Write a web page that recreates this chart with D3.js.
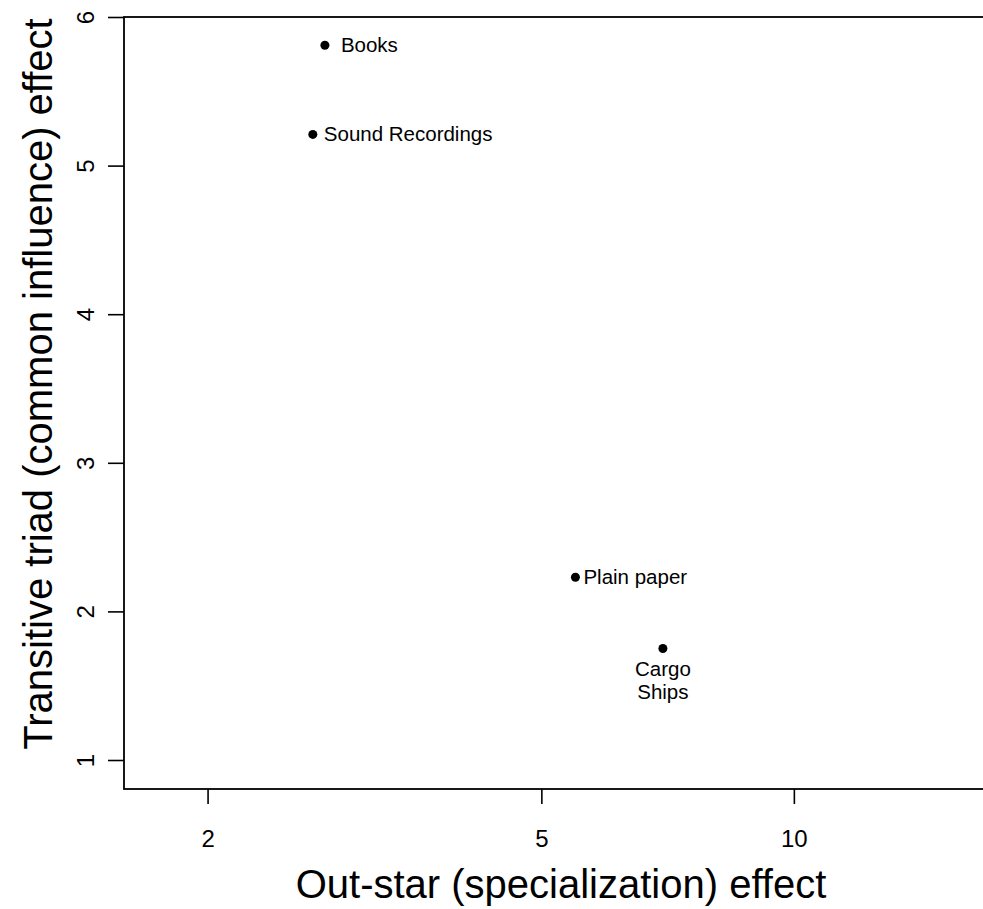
<!DOCTYPE html>
<html>
<head>
<meta charset="utf-8">
<script src="https://cdn.jsdelivr.net/npm/d3@7"></script>
<style>
  body { margin: 0; background: #fff; }
  svg { display: block; font-family: "Liberation Sans", Arial, sans-serif; }
</style>
</head>
<body>
<svg id="chart" width="983" height="909"></svg>
<script>
// data
var names = ["Books", "Sound Recordings", "Plain paper", "Cargo Ships"];
var outStar = [2.76, 2.67, 5.49, 6.98];
var transTriad = [5.81, 5.21, 2.23, 1.75];
var xTicks = [2, 5, 10];
var yTicks = [1, 2, 3, 4, 5, 6];

var svg = d3.select("#chart");
// box edges (right edge runs past the window like the scan)
var boxL = 124, boxT = 17, boxR = 1010, boxB = 789;

var x = d3.scaleLog().domain([1.59, 18.1]).range([boxL, boxR]);
var y = d3.scaleLinear().domain([1, 6]).range([760, 17]);

// plot box
svg.append("rect")
  .attr("x", boxL).attr("y", boxT)
  .attr("width", boxR - boxL).attr("height", boxB - boxT)
  .attr("fill", "none").attr("stroke", "black").attr("stroke-width", 1.8);

// x axis
var xAxis = svg.append("g").attr("transform", "translate(0," + boxB + ")")
  .call(d3.axisBottom(x).tickValues(xTicks).tickFormat(d3.format("d")).tickSize(15).tickPadding(26));
xAxis.select(".domain").remove();
xAxis.selectAll("line").attr("stroke-width", 1.6);
xAxis.selectAll("text").attr("font-size", 24).attr("font-family", "Liberation Sans, Arial, sans-serif");

// y axis, labels rotated like R
var yAxis = svg.append("g").attr("transform", "translate(" + boxL + ",0)")
  .call(d3.axisLeft(y).tickValues(yTicks).tickSize(16).tickFormat(d3.format("d")));
yAxis.select(".domain").remove();
yAxis.selectAll("line").attr("stroke-width", 1.6);
yAxis.selectAll("text")
  .attr("font-size", 24).attr("font-family", "Liberation Sans, Arial, sans-serif")
  .attr("text-anchor", "middle").attr("x", 0).attr("dy", 0)
  .attr("transform", "translate(-39,0) rotate(-90)")
  .attr("dominant-baseline", "central");

// axis titles
svg.append("text").attr("x", 561).attr("y", 898)
  .attr("text-anchor", "middle").attr("font-size", 40)
  .text("Out-star (specialization) effect");
svg.append("text")
  .attr("transform", "translate(38,384) rotate(-90)")
  .attr("text-anchor", "middle").attr("dominant-baseline", "central").attr("font-size", 40)
  .text("Transitive triad (common influence) effect");

// points
var pts = names.map(function(n, i){ return {name: n, x: outStar[i], y: transTriad[i]}; });
svg.selectAll("circle.pt").data(pts).enter().append("circle")
  .attr("class", "pt")
  .attr("cx", function(d){ return x(d.x); })
  .attr("cy", function(d){ return y(d.y); })
  .attr("r", 4.5).attr("fill", "black");

// labels: right of point, Cargo Ships below in two lines
pts.forEach(function(d){
  var px = x(d.x), py = y(d.y);
  if (d.name == "Cargo Ships"){
    var t = svg.append("text").attr("text-anchor", "middle").attr("font-size", 20.5);
    t.append("tspan").attr("x", px).attr("y", py + 27).text("Cargo");
    t.append("tspan").attr("x", px).attr("y", py + 50).text("Ships");
  } else {
    var off = 16;
    if (d.name == "Plain paper") off = 8;
    if (d.name == "Sound Recordings") off = 11;
    svg.append("text").attr("x", px + off).attr("y", py + 7)
      .attr("font-size", 20.5).text(d.name);
  }
});
</script>
</body>
</html>
